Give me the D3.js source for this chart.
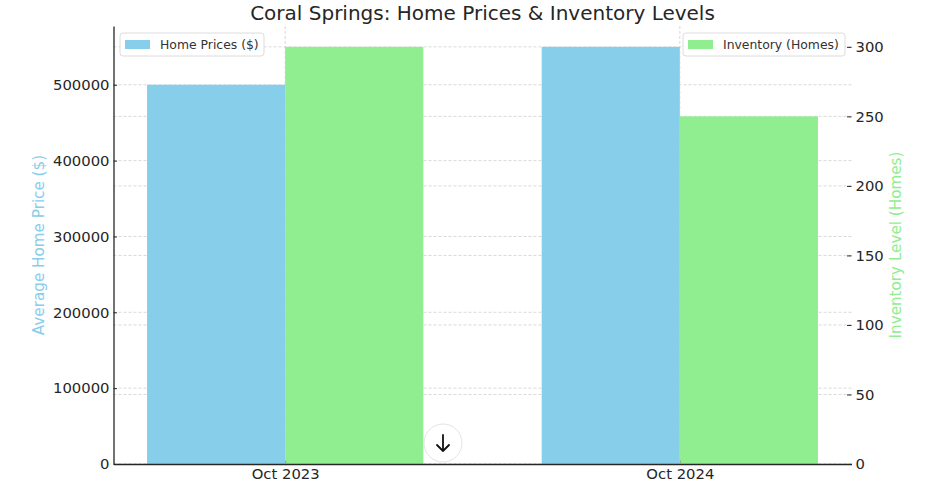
<!DOCTYPE html>
<html>
<head>
<meta charset="utf-8">
<script src="https://cdn.jsdelivr.net/npm/d3@7"></script>
<style>
  body { margin: 0; background: #fff; }
  text { font-family: "DejaVu Sans", sans-serif; }
</style>
</head>
<body>
<div id="chart"></div>
<script>
// Coral Springs - prices vs inventory

const categories = ["Oct 2023", "Oct 2024"];
const homePrices = [500000, 550000];
const inventory = [300, 250];
const priceTicks = [0, 100000, 200000, 300000, 400000, 500000];
const invTicks = [0, 50, 100, 150, 200, 250, 300];

const width = 950, height = 488;
const margin = {top: 26, right: 98.5, bottom: 24, left: 113.5};
const innerW = width - margin.left - margin.right,
    innerH = height - margin.top - margin.bottom;

const barW = 0.35;
const blue = "#87CEEB", green = "#90EE90";
const tickFont = 14.8;

let svg = d3.select("#chart")
  .append("svg")
    .attr("width", width)
    .attr("height", height);

let g = svg.append("g")
    .attr("transform", `translate(${margin.left}, ${margin.top})`);

// x in category index units, matplotlib style 5% margins
let x = d3.scaleLinear()
  .domain([-barW - 0.085, 1 + barW + 0.085])
  .range([0, innerW]);

let yPrice = d3.scaleLinear()
  .domain([0, d3.max(homePrices) * 1.05])
  .range([innerH, 0]);

let yInv = d3.scaleLinear()
  .domain([0, d3.max(inventory) * 1.05])
  .range([innerH, 0]);

// grids (behind the bars)
const gridStyle = sel => sel
  .attr("stroke", "#cfcfcf")
  .attr("stroke-width", 0.8)
  .attr("stroke-dasharray", "3,2");

g.selectAll(".gp")
  .data(priceTicks)
  .join("line")
    .attr("x1", 0).attr("x2", innerW)
    .attr("y1", d => yPrice(d)).attr("y2", d => yPrice(d))
    .call(gridStyle);

g.selectAll(".gi")
  .data(invTicks)
  .join("line")
    .attr("x1", 0).attr("x2", innerW)
    .attr("y1", d => yInv(d)).attr("y2", d => yInv(d))
    .call(gridStyle);

g.selectAll(".gx")
  .data(categories)
  .join("line")
    .attr("x1", (d, i) => x(i)).attr("x2", (d, i) => x(i))
    .attr("y1", 0).attr("y2", innerH)
    .call(gridStyle);

// bars
g.selectAll(".bp")
  .data(homePrices)
  .join("rect")
    .attr("x", (d, i) => x(i - barW))
    .attr("width", x(barW) - x(0))
    .attr("y", d => yPrice(d))
    .attr("height", d => innerH - yPrice(d))
    .attr("fill", blue);

g.selectAll(".bi")
  .data(inventory)
  .join("rect")
    .attr("x", (d, i) => x(i))
    .attr("width", x(barW) - x(0))
    .attr("y", d => yInv(d))
    .attr("height", d => innerH - yInv(d))
    .attr("fill", green);

// axes (ticks point inward like the original)
const styleAxis = sel => {
  sel.selectAll("text").attr("font-size", tickFont).attr("fill", "#262626")
    .attr("font-family", "DejaVu Sans, sans-serif");
  sel.selectAll("line").attr("stroke", "#262626");
};

let xAxis = g.append("g")
    .attr("transform", `translate(0, ${innerH})`)
    .call(d3.axisBottom(x).tickValues([0, 1]).tickFormat(i => categories[i])
      .tickSize(-3.5).tickPadding(4).tickSizeOuter(0))
    .call(styleAxis);
xAxis.select(".domain").attr("stroke", "#262626").attr("stroke-width", 1.3);
xAxis.selectAll(".tick line").attr("stroke", "#999");

let leftAxis = g.append("g")
    .call(d3.axisLeft(yPrice).tickValues(priceTicks).tickFormat(d3.format("d"))
      .tickSize(-3.5).tickPadding(4).tickSizeOuter(0))
    .call(styleAxis);
leftAxis.select(".domain").attr("stroke", "#262626").attr("stroke-width", 1.3);

let rightAxis = g.append("g")
    .attr("transform", `translate(${innerW}, 0)`)
    .call(d3.axisRight(yInv).tickValues(invTicks)
      .tickSize(-4.5).tickPadding(4).tickSizeOuter(0))
    .call(styleAxis);
rightAxis.select(".domain").remove();

// axis labels
svg.append("text")
    .attr("transform", `translate(44, ${margin.top + innerH / 2}) rotate(-90)`)
    .attr("text-anchor", "middle")
    .attr("font-size", 15.2)
    .attr("fill", blue)
    .text("Average Home Price ($)");

svg.append("text")
    .attr("transform", `translate(901, ${margin.top + innerH / 2}) rotate(-90)`)
    .attr("text-anchor", "middle")
    .attr("font-size", 15.2)
    .attr("fill", green)
    .text("Inventory Level (Homes)");

// title
svg.append("text")
    .attr("x", margin.left + innerW / 2)
    .attr("y", 20)
    .attr("text-anchor", "middle")
    .attr("font-size", 20)
    .attr("fill", "#262626")
    .text("Coral Springs: Home Prices & Inventory Levels");

// legends
const legends = [
  {label: "Home Prices ($)", color: blue, x: 120, w: 144},
  {label: "Inventory (Homes)", color: green, x: 683, w: 162}
];
legends.forEach(l => {
  let lg = svg.append("g").attr("transform", `translate(${l.x}, 33)`);
  lg.append("rect")
      .attr("width", l.w).attr("height", 23).attr("rx", 3)
      .attr("fill", "white").attr("fill-opacity", 0.85)
      .attr("stroke", "#dcdcdc");
  lg.append("rect")
      .attr("x", 5).attr("y", 7).attr("width", 25).attr("height", 9)
      .attr("fill", l.color);
  lg.append("text")
      .attr("x", 40).attr("y", 15.5)
      .attr("font-size", 12.4)
      .attr("fill", "#333")
      .text(l.label);
});

// scroll-down button overlay
let btn = svg.append("g").attr("transform", "translate(443, 443)");
btn.append("circle").attr("r", 19).attr("fill", "white").attr("stroke", "#e3e3e3");
btn.append("path")
    .attr("d", "M0,-8 L0,8 M-6,2 L0,8 L6,2")
    .attr("fill", "none").attr("stroke", "#111").attr("stroke-width", 1.8)
    .attr("stroke-linecap", "round").attr("stroke-linejoin", "round");
</script>
</body>
</html>
